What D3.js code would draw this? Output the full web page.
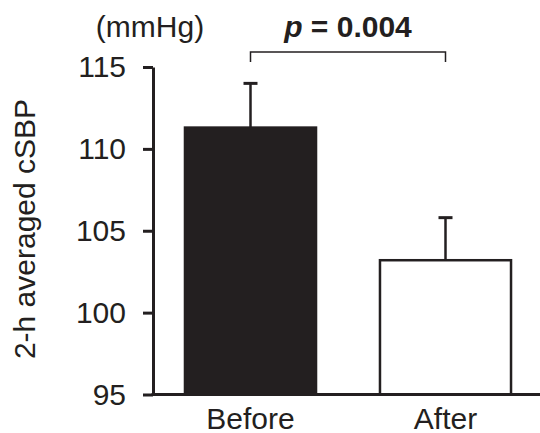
<!DOCTYPE html>
<html>
<head>
<meta charset="utf-8">
<script src="https://cdn.jsdelivr.net/npm/d3@7"></script>
<style>
  body { margin: 0; background: #fff; }
  svg { display: block; font-family: "Liberation Sans", Arial, sans-serif; }
</style>
</head>
<body>
<svg id="chart" width="540" height="433"></svg>
<script>
// values
var categories = ['Before', 'After'];
var means = [111.3, 103.2];
var errors = [2.7, 2.6];
var yTicks = [95, 100, 105, 110, 115];
var pLabel = '0.004';

var ink = '#231f20';
var svg = d3.select('#chart');

var x = d3.scaleBand()
    .domain(categories)
    .range([153, 543])
    .paddingInner(0.328)
    .paddingOuter(0.164);

var y = d3.scaleLinear()
    .domain([95, 115])
    .range([394.5, 67]);

// y axis
var yAxis = d3.axisLeft(y)
    .tickValues(yTicks)
    .tickSize(10)
    .tickSizeOuter(0)
    .tickPadding(17);

var gy = svg.append('g')
    .attr('transform', 'translate(153,0)')
    .call(yAxis);

gy.select('.domain').attr('stroke', ink).attr('stroke-width', 3);
gy.selectAll('.tick line').attr('stroke', ink).attr('stroke-width', 3);
gy.selectAll('.tick text')
    .attr('fill', ink)
    .style('font-size', '30px')
    .style('font-family', '"Liberation Sans", Arial, sans-serif');

// bars
svg.selectAll('rect.bar')
    .data(categories)
    .enter().append('rect')
    .attr('class', 'bar')
    .attr('x', function(d) { return x(d); })
    .attr('width', x.bandwidth())
    .attr('y', function(d, i) { return y(means[i]); })
    .attr('height', function(d, i) { return y(95) - y(means[i]); })
    .attr('fill', function(d, i) { return i === 0 ? ink : '#fff'; })
    .attr('stroke', ink)
    .attr('stroke-width', 2.5);

// error bars (upper only)
var capHalf = 7;
categories.forEach(function(c, i) {
    var cx = x(c) + x.bandwidth() / 2;
    var top = y(means[i] + errors[i]);
    svg.append('line')
        .attr('x1', cx).attr('x2', cx)
        .attr('y1', y(means[i])).attr('y2', top)
        .attr('stroke', ink).attr('stroke-width', 2.5);
    svg.append('line')
        .attr('x1', cx - capHalf).attr('x2', cx + capHalf)
        .attr('y1', top).attr('y2', top)
        .attr('stroke', ink).attr('stroke-width', 3);
});

// x axis baseline
svg.append('line')
    .attr('x1', 151.5).attr('x2', 543)
    .attr('y1', y(95)).attr('y2', y(95))
    .attr('stroke', ink).attr('stroke-width', 3);

// category labels
svg.selectAll('text.cat')
    .data(categories)
    .enter().append('text')
    .attr('class', 'cat')
    .attr('x', function(d) { return x(d) + x.bandwidth() / 2; })
    .attr('y', 429)
    .attr('text-anchor', 'middle')
    .attr('fill', ink)
    .style('font-size', '30px')
    .text(function(d) { return d; });

// y title and unit
svg.append('text')
    .attr('transform', 'translate(35,229) rotate(-90)')
    .attr('text-anchor', 'middle')
    .attr('fill', ink)
    .style('font-size', '30px')
    .text('2-h averaged cSBP');

svg.append('text')
    .attr('x', 150)
    .attr('y', 37)
    .attr('text-anchor', 'middle')
    .attr('fill', ink)
    .style('font-size', '30px')
    .text('(mmHg)');

// significance bracket
var bx1 = x(categories[0]) + x.bandwidth() / 2;
var bx2 = x(categories[1]) + x.bandwidth() / 2;
svg.append('path')
    .attr('d', 'M' + bx1 + ',62V52H' + bx2 + 'V62')
    .attr('fill', 'none')
    .attr('stroke', ink)
    .attr('stroke-width', 1.5);

var pText = svg.append('text')
    .attr('x', (bx1 + bx2) / 2)
    .attr('y', 37)
    .attr('text-anchor', 'middle')
    .attr('fill', ink)
    .style('font-size', '30px')
    .style('font-weight', 'bold');
pText.append('tspan').style('font-style', 'italic').text('p');
pText.append('tspan').text(' = ' + pLabel);
</script>
</body>
</html>
